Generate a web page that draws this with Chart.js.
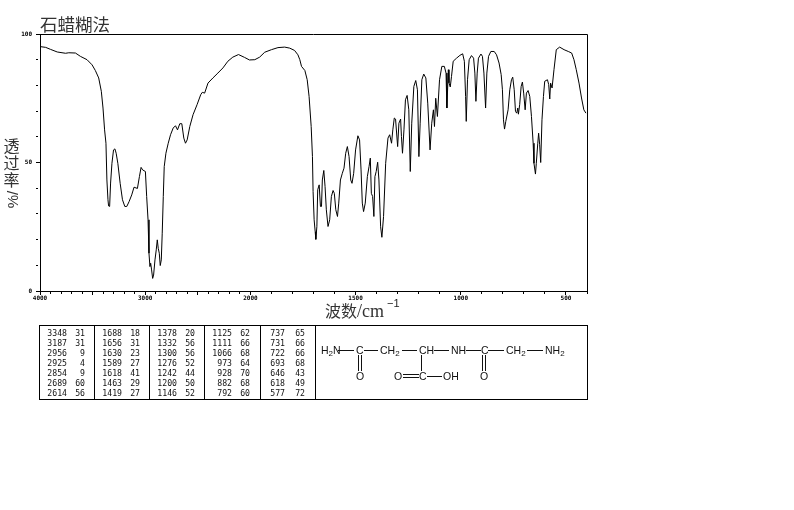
<!DOCTYPE html>
<html lang="zh">
<head>
<meta charset="utf-8">
<title>石蜡糊法</title>
<script src="https://cdn.jsdelivr.net/npm/chart.js@4"></script>
<style>
html,body{margin:0;padding:0;background:#fff;width:794px;height:510px;overflow:hidden}
#wrap{position:relative;width:794px;height:510px}
canvas{position:absolute;left:0;top:0}
.ytitle{position:absolute;left:3px;top:137px;width:17px;font:16px/17px "Noto Sans CJK SC";color:#333;text-align:center}
.ytitle span{display:block}
.ytitle .r{font:15px/17px "Liberation Sans";width:20px;height:17px;margin:3px 0 0 -1px;text-align:center;transform:rotate(-90deg);transform-origin:50% 50%;white-space:nowrap}
.xtitle{position:absolute;left:325px;top:299px;font:16px/22px "Noto Sans CJK SC";color:#333;white-space:nowrap}
.xtitle .u{font-family:"Liberation Serif";font-size:18px}
.xtitle .s{position:absolute;left:62px;top:-3px;font:11px/14px "Liberation Sans";color:#222}
#tbl{position:absolute;left:39px;top:325px;width:549px;height:75px;box-sizing:border-box;border:1px solid #000}
.div{position:absolute;top:0;bottom:0;width:1px;background:#000}
.c{position:absolute;font:8.2px/10px "DejaVu Sans Mono";color:#111;text-align:right;white-space:pre}
svg{position:absolute;left:0;top:0}
svg text{font-family:"Liberation Sans";font-size:10.5px;fill:#111}
svg line{stroke:#111;stroke-width:1}
</style>
</head>
<body>
<div id="wrap">
<canvas id="c" width="794" height="510"></canvas>
<div class="ytitle"><span>透</span><span>过</span><span>率</span><span class="r">%/</span></div>
<div class="xtitle">波数<span class="u">/cm</span><span class="s">−1</span></div>
<div id="tbl"></div>
<svg width="794" height="510" xmlns="http://www.w3.org/2000/svg">
<text x="321" y="354">H<tspan font-size="8" dy="2">2</tspan><tspan dy="-2">N</tspan></text>
<line x1="338" y1="350.5" x2="354" y2="350.5"/>
<text x="356" y="354">C</text>
<line x1="364" y1="350.5" x2="378" y2="350.5"/>
<text x="380" y="354">CH<tspan font-size="8" dy="2">2</tspan></text>
<line x1="402" y1="350.5" x2="417" y2="350.5"/>
<text x="419" y="354">CH</text>
<line x1="434" y1="350.5" x2="449" y2="350.5"/>
<text x="451" y="354">NH</text>
<line x1="466" y1="350.5" x2="481" y2="350.5"/>
<text x="481" y="354">C</text>
<line x1="488" y1="350.5" x2="504" y2="350.5"/>
<text x="506" y="354">CH<tspan font-size="8" dy="2">2</tspan></text>
<line x1="527" y1="350.5" x2="543" y2="350.5"/>
<text x="545" y="354">NH<tspan font-size="8" dy="2">2</tspan></text>
<line x1="358.5" y1="355" x2="358.5" y2="371"/><line x1="361.5" y1="355" x2="361.5" y2="371"/>
<text x="356" y="380">O</text>
<line x1="482.5" y1="355" x2="482.5" y2="371"/><line x1="485.5" y1="355" x2="485.5" y2="371"/>
<text x="480" y="380">O</text>
<line x1="421.5" y1="355" x2="421.5" y2="371"/>
<text x="419" y="380">C</text>
<text x="394" y="380">O</text>
<line x1="403" y1="374.5" x2="419" y2="374.5"/><line x1="403" y1="377.5" x2="419" y2="377.5"/>
<line x1="427" y1="376.5" x2="442" y2="376.5"/>
<text x="443" y="380">OH</text>
</svg>
</div>
<script>
// Spectrum: wavenumber (cm-1) and transmittance (%)
const wavenumbers = [4000,3946,3899,3836,3757,3726,3663,3616,3553,3505,3474,3442,3417,3401,3386,3373,3364,3354,3348,3338,3329,3316,3301,3288,3276,3260,3238,3216,3194,3175,3153,3128,3106,3074,3055,3039,3024,2998,2986,2973,2964,2955,2948,2939,2929,2920,2907,2895,2885,2876,2866,2857,2847,2838,2828,2819,2803,2781,2759,2734,2712,2693,2671,2652,2633,2617,2601,2576,2545,2507,2472,2457,2435,2403,2356,2309,2261,2214,2167,2113,2056,2009,1979,1956,1932,1900,1869,1837,1813,1790,1774,1765,1757,1741,1730,1721,1711,1705,1702,1697,1692,1689,1684,1680,1673,1667,1662,1658,1651,1645,1639,1631,1623,1615,1607,1601,1594,1586,1580,1572,1563,1555,1547,1539,1531,1523,1517,1509,1500,1489,1481,1474,1468,1462,1454,1444,1436,1430,1425,1419,1413,1408,1402,1395,1389,1381,1375,1367,1357,1346,1338,1329,1323,1316,1310,1300,1294,1286,1282,1277,1270,1263,1255,1247,1240,1233,1223,1214,1206,1199,1193,1185,1176,1166,1157,1146,1138,1130,1125,1119,1111,1101,1090,1078,1070,1066,1059,1056,1050,1044,1036,1020,1004,991,983,977,974,968,960,949,939,933,928,922,916,904,897,890,882,876,868,857,841,830,818,808,802,797,792,786,775,767,759,753,746,740,734,729,726,720,713,707,701,694,688,680,672,664,656,652,645,641,634,630,625,620,614,607,601,588,582,577,573,566,557,546,530,509,489,473,462,451,438,426,415,405];
const transmittance = [95.1,94.8,94,93,92.5,92.7,92.6,91.3,90,88,85.8,82.9,77.7,71.2,62.7,57.5,43.2,35.5,33.1,32.9,42,49.7,54.9,55.3,53.6,49.7,41.9,35.5,32.9,32.9,34.8,37.4,40.4,39.9,44.5,48.1,47.1,46.5,36.8,27.7,14.7,9.5,10.8,8.2,4.9,6.2,12.1,16,19.9,16.6,14.7,9.9,12.1,22.5,36.8,48.4,53.6,57.5,60.8,63.4,64.3,62.7,65.1,65.1,59.5,57.5,58.8,64,68.6,72.5,76.4,77.3,77,80.9,82.9,84.8,86.8,89.4,91,92,90.9,89.9,90,91,92.9,93.9,94.7,94.9,94.5,93.6,91.9,90,87.4,85.8,82.2,75.7,64,52.3,38.7,27.7,23.1,20.1,25,39.4,41.3,32.9,32.9,43.2,46.9,40.6,31.6,25.1,27.7,36.8,39.1,38,31.6,29,34.2,43.2,45.8,47.8,53.6,56.2,52.3,43.2,41.9,45.8,54.9,60.4,58.8,47.1,34.2,30.9,34.2,44.5,48.4,51.7,38,36.8,29,44.5,46.5,50.1,43.2,25,20.9,29,49.7,59.5,60.8,57.5,62.7,67.3,66.9,56.2,65.3,66.9,60.1,53.6,62.7,74.4,76.1,70.5,46.5,65.3,79.6,81.9,78.3,52.3,65.3,82.2,84.4,82.9,73.1,54.9,65.3,70.5,64,75,67.9,82.2,87.4,87.4,84.8,71.2,86.1,81,79.4,83.5,89.4,90.6,91.7,92.3,89.4,75.7,66,82.2,90,91.6,90.6,84.8,73.8,84.8,90.6,92.2,91.3,84.8,71.2,84.8,91.3,93.2,93.2,91.9,88.7,84.2,78.3,66.6,63,66,70.5,78.3,82.2,83.2,78.3,69.9,69.2,71.2,68.8,72.5,79.6,81.3,77,70.5,77,78,75.7,67.9,57.5,49.7,45.5,49.7,57.5,61.4,56.9,50,66.6,75.7,81.6,82.2,80.3,74.7,80.9,79,86.1,93.9,94.9,93.9,93.2,92.6,90,86.1,80.9,75.1,70.5,69.2];

const xLabels = [4000,3000,2000,1500,1000,500];
const yLabels = [0,50,100];
const titleText = '石蜡糊法';

// Peak table, one pair of lists per column
const peakW1 = ['3348','3187','2956','2925','2854','2689','2614'];
const peakT1 = ['31','31','9','4','9','60','56'];
const peakW2 = ['1688','1656','1630','1589','1618','1463','1419'];
const peakT2 = ['18','31','23','27','41','29','27'];
const peakW3 = ['1378','1332','1300','1276','1242','1200','1146'];
const peakT3 = ['20','56','56','52','44','50','52'];
const peakW4 = ['1125','1111','1066','973','928','882','792'];
const peakT4 = ['62','66','68','64','70','68','60'];
const peakW5 = ['737','731','722','693','646','618','577'];
const peakT5 = ['65','66','66','68','43','49','72'];

// The instrument's x axis doubles its scale below 2000 cm-1
const toAxis = w => w >= 2000 ? (4000 - w) / 2 : 1000 + (2000 - w);
const fromAxis = u => u <= 1000 ? 4000 - u * 2 : 2000 - (u - 1000);

const xTickWavenumbers = [];
for (let w = 4000; w >= 400; w -= 100) xTickWavenumbers.push(w);

const isMajorX = w => w % 500 === 0;

const frame = {
  id: 'frame',
  afterDraw(chart) {
    const a = chart.chartArea, c = chart.ctx;
    c.save();
    c.strokeStyle = '#000'; c.lineWidth = 1;
    c.beginPath();
    c.moveTo(a.left - .5, a.top + .5); c.lineTo(a.right + .5, a.top + .5); c.lineTo(a.right + .5, a.bottom + .5);
    c.stroke();
    c.restore();
  }
};

new Chart(document.getElementById('c'), {
  type: 'line',
  data: {
    datasets: [{
      data: wavenumbers.map((w, i) => ({ x: toAxis(w), y: transmittance[i] })),
      borderColor: '#000', borderWidth: 1, pointRadius: 0, tension: 0, fill: false
    }]
  },
  plugins: [frame],
  options: {
    responsive: false, animation: false, devicePixelRatio: 1,
    layout: { padding: { left: 0, right: 207, top: 0, bottom: 199 } },
    plugins: {
      legend: { display: false }, tooltip: { enabled: false },
      title: {
        display: true, text: titleText, align: 'start', fullSize: false, color: '#333',
        font: { family: '"Noto Sans CJK SC"', size: 17.5, weight: 'normal', lineHeight: 1.2 },
        padding: { top: 14, bottom: -1 }
      }
    },
    scales: {
      x: {
        type: 'linear', min: 0, max: 2600,
        afterFit(s) { s.height = 20; },
        afterBuildTicks(s) { s.ticks = xTickWavenumbers.map(w => ({ value: toAxis(w) })); },
        grid: {
          drawOnChartArea: false, drawTicks: true, tickLength: 4, tickColor: '#000',
          tickBorderDash: ctx => isMajorX(Math.round(fromAxis(ctx.tick.value))) ? [] : [2, 100]
        },
        border: { color: '#000', width: 1 },
        ticks: {
          autoSkip: false, maxRotation: 0, minRotation: 0, padding: 0, color: '#000',
          font: { family: '"DejaVu Sans Mono"', size: 6, weight: 'bold' },
          callback(v) { const w = Math.round(fromAxis(v)); return xLabels.includes(w) ? String(w) : ''; }
        }
      },
      y: {
        type: 'linear', min: 0, max: 100,
        afterFit(s) { s.width = 40; },
        grid: {
          drawOnChartArea: false, drawTicks: true, tickLength: 4, tickColor: '#000',
          tickBorderDash: ctx => yLabels.includes(ctx.tick.value) ? [] : [2, 100]
        },
        border: { color: '#000', width: 1 },
        ticks: {
          stepSize: 10, padding: 4, color: '#000',
          font: { family: '"DejaVu Sans Mono"', size: 6, weight: 'bold' },
          callback(v) { return yLabels.includes(v) ? String(v) : ''; }
        }
      }
    }
  }
});

// Peak table
const tbl = document.getElementById('tbl');
const cols = [
  [peakW1, peakT1, 27, 45], [peakW2, peakT2, 82, 100], [peakW3, peakT3, 137, 155],
  [peakW4, peakT4, 192, 210], [peakW5, peakT5, 245, 265]
];
[54, 109, 164, 220, 275].forEach(l => {
  const d = document.createElement('div'); d.className = 'div'; d.style.left = l + 'px'; tbl.appendChild(d);
});
cols.forEach(([ws, ts, wr, tr]) => {
  ws.forEach((w, r) => {
    [[w, wr], [ts[r], tr]].forEach(([txt, right]) => {
      const s = document.createElement('span');
      s.className = 'c'; s.textContent = txt;
      s.style.left = (right - 25) + 'px'; s.style.width = '25px';
      s.style.top = (1.5 + r * 10.1) + 'px';
      tbl.appendChild(s);
    });
  });
});
</script>
</body>
</html>
